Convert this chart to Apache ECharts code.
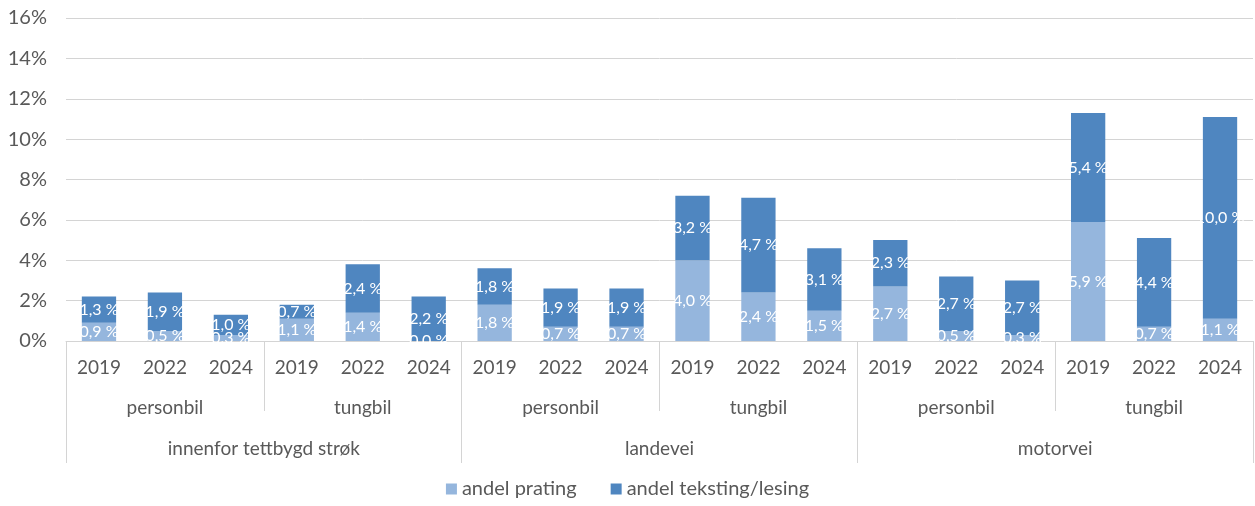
<!DOCTYPE html>
<html>
<head>
<meta charset="utf-8">
<script src="https://cdn.jsdelivr.net/npm/echarts@6/dist/echarts.min.js"></script>
<style>
  html, body { margin: 0; padding: 0; background: #fff; }
  #chart { width: 1255px; height: 506px; }
</style>
</head>
<body>
<div id="chart"></div>
<script>
const years = ["2019", "2022", "2024", "2019", "2022", "2024", "2019", "2022", "2024",
               "2019", "2022", "2024", "2019", "2022", "2024", "2019", "2022", "2024"];
const vehicles = ["personbil", "tungbil", "personbil", "tungbil", "personbil", "tungbil"];
const roads = ["innenfor tettbygd strøk", "landevei", "motorvei"];
const seriesNames = ["andel prating", "andel teksting/lesing"];
const prating = [0.9, 0.5, 0.3, 1.1, 1.4, 0.0, 1.8, 0.7, 0.7, 4.0, 2.4, 1.5, 2.7, 0.5, 0.3, 5.9, 0.7, 1.1];
const teksting = [1.3, 1.9, 1.0, 0.7, 2.4, 2.2, 1.8, 1.9, 1.9, 3.2, 4.7, 3.1, 2.3, 2.7, 2.7, 5.4, 4.4, 10.0];

const fontFamily = "Lato, 'Liberation Sans', sans-serif";
const textColor = "#595959";
const lineColor = "#d4d4d4";

function pct(p) {
  return p.value.toFixed(1).replace(".", ",") + " %";
}

const chart = echarts.init(document.getElementById("chart"));
chart.setOption({
  animation: false,
  textStyle: { fontFamily: fontFamily },
  grid: { left: 66, right: 2, top: 18, bottom: 165 },
  legend: {
    bottom: 2,
    left: "center",
    itemWidth: 11,
    itemHeight: 11,
    itemGap: 34,
    icon: "rect",
    textStyle: { fontSize: 20, color: textColor, fontFamily: fontFamily },
    data: seriesNames
  },
  xAxis: [
    {
      type: "category",
      data: years,
      position: "bottom",
      axisLine: { show: true, lineStyle: { color: lineColor } },
      axisTick: { show: false },
      axisLabel: { interval: 0, margin: 17, fontSize: 19, color: textColor }
    },
    {
      type: "category",
      data: vehicles,
      position: "bottom",
      axisLine: { show: false },
      axisTick: { show: true, interval: 0, length: 70, lineStyle: { color: lineColor } },
      axisLabel: { interval: 0, margin: 57, fontSize: 19, color: textColor }
    },
    {
      type: "category",
      data: roads,
      position: "bottom",
      axisLine: { show: false },
      axisTick: { show: true, interval: 0, length: 122, lineStyle: { color: lineColor } },
      axisLabel: { interval: 0, margin: 98, fontSize: 19, color: textColor }
    }
  ],
  yAxis: {
    type: "value",
    min: 0,
    max: 16,
    interval: 2,
    axisLine: { show: false },
    axisTick: { show: false },
    axisLabel: { formatter: "{value}%", fontSize: 20, color: textColor, margin: 19 },
    splitLine: { lineStyle: { color: lineColor } }
  },
  series: [
    {
      name: seriesNames[0],
      type: "bar",
      stack: "total",
      barWidth: "52%",
      data: prating,
      itemStyle: { color: "#95b6dd" },
      label: { show: true, position: "inside", color: "#fff", fontSize: 16, formatter: pct }
    },
    {
      name: seriesNames[1],
      type: "bar",
      stack: "total",
      barWidth: "52%",
      data: teksting,
      itemStyle: { color: "#4f86c0" },
      label: { show: true, position: "inside", color: "#fff", fontSize: 16, formatter: pct }
    }
  ]
});
</script>
</body>
</html>
